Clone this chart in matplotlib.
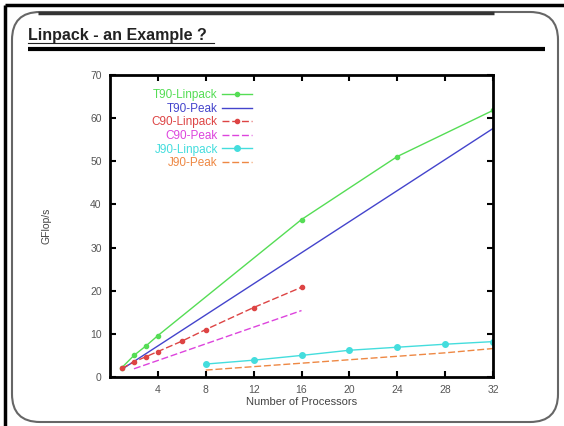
import matplotlib
matplotlib.use("Agg")
import matplotlib.pyplot as plt
from matplotlib.patches import FancyBboxPatch

title = "Linpack - an Example ?"
xlabel = "Number of Processors"
ylabel = "GFlop/s"

t90_lin_x = [1, 2, 3, 4, 16, 24, 32]
t90_lin_y = [2.2, 5.0, 7.2, 9.6, 36.5, 51.1, 61.8]
t90_peak_x = [1, 32]
t90_peak_y = [1.8, 57.6]

c90_lin_x = [1, 2, 3, 4, 6, 8, 12, 16]
c90_lin_y = [2.0, 3.5, 4.7, 5.9, 8.3, 11.0, 16.1, 20.8]
c90_peak_x = [2, 16]
c90_peak_y = [1.9, 15.4]

j90_lin_x = [8, 12, 16, 20, 24, 28, 32]
j90_lin_y = [3.0, 3.9, 5.0, 6.2, 6.9, 7.6, 8.2]
j90_peak_x = [8, 12, 16, 20, 24, 28, 32]
j90_peak_y = [1.6, 2.4, 3.2, 4.0, 4.8, 5.6, 6.6]

xticks = [4, 8, 12, 16, 20, 24, 28, 32]
yticks = [0, 10, 20, 30, 40, 50, 60, 70]

plt.rcParams["font.family"] = ["Liberation Sans", "DejaVu Sans"]

W, H = 564, 426
fig = plt.figure(figsize=(W / 100, H / 100), dpi=100)
fig.patch.set_facecolor("white")

# background overlay in pixel coordinates (y downward)
bg = fig.add_axes([0, 0, 1, 1])
bg.set_xlim(0, W)
bg.set_ylim(H, 0)
bg.axis("off")
bg.plot([5, 5], [5, H], color="black", lw=2.5, solid_capstyle="butt")
bg.plot([5, W], [5, 5], color="black", lw=2.5, solid_capstyle="butt")
bg.add_patch(FancyBboxPatch((12, 12), 546, 410,
                            boxstyle="round,pad=0,rounding_size=28",
                            fill=False, ec="#666666", lw=1.5))
bg.plot([38, 494], [12.5, 12.5], color="#333333", lw=2.5, solid_capstyle="butt")

bg.text(28, 40, title, fontsize=11.5, fontweight="bold", color="#222222",
        va="baseline", ha="left")
bg.plot([28, 214], [42.5, 42.5], color="#222222", lw=0.8)
bg.plot([28, 545], [49, 49], color="black", lw=3, solid_capstyle="butt")

ax = fig.add_axes([110 / W, 1 - 377 / H, (493 - 110) / W, (377 - 75) / H])
ax.set_xlim(0, 32)
ax.set_ylim(0, 70)

green = "#55dd55"
blue = "#4444cc"
red = "#dd4444"
magenta = "#dd44dd"
cyan = "#44dddd"
orange = "#ee8844"

ax.plot(t90_lin_x, t90_lin_y, color=green, lw=1.0, marker="o", ms=3, label="T90-Linpack")
ax.plot(t90_peak_x, t90_peak_y, color=blue, lw=1.0, label="T90-Peak")
ax.plot(c90_lin_x, c90_lin_y, color=red, lw=1.0, ls=(0, (5, 2)), marker="o", ms=3, label="C90-Linpack")
ax.plot(c90_peak_x, c90_peak_y, color=magenta, lw=1.0, ls=(0, (5, 2)), label="C90-Peak")
ax.plot(j90_lin_x, j90_lin_y, color=cyan, lw=1.0, marker="o", ms=4, label="J90-Linpack")
ax.plot(j90_peak_x, j90_peak_y, color=orange, lw=1.0, ls=(0, (5, 2)), label="J90-Peak")

for s in ax.spines.values():
    s.set_linewidth(2)
ax.set_xticks(xticks)
ax.set_yticks(yticks)
ax.tick_params(direction="in", length=4, width=1.5, top=True, right=True,
               labelsize=7.5, labelcolor="#555555", pad=6)
ax.set_xlabel(xlabel, fontsize=8, color="#444444", labelpad=1)
ax.set_ylabel(ylabel, fontsize=7.5, color="#444444", labelpad=28)

leg = ax.legend(loc="upper right", bbox_to_anchor=((252 - 110) / (493 - 110), 1 - (89 - 75) / (377 - 75)),
                frameon=False, markerfirst=False, labelcolor="linecolor", fontsize=8.5,
                handlelength=2.5, handletextpad=0.4, labelspacing=0.14, borderaxespad=0,
                borderpad=0)
leg._legend_box.align = "right"

fig.savefig("out.png", dpi=100, facecolor="white")
